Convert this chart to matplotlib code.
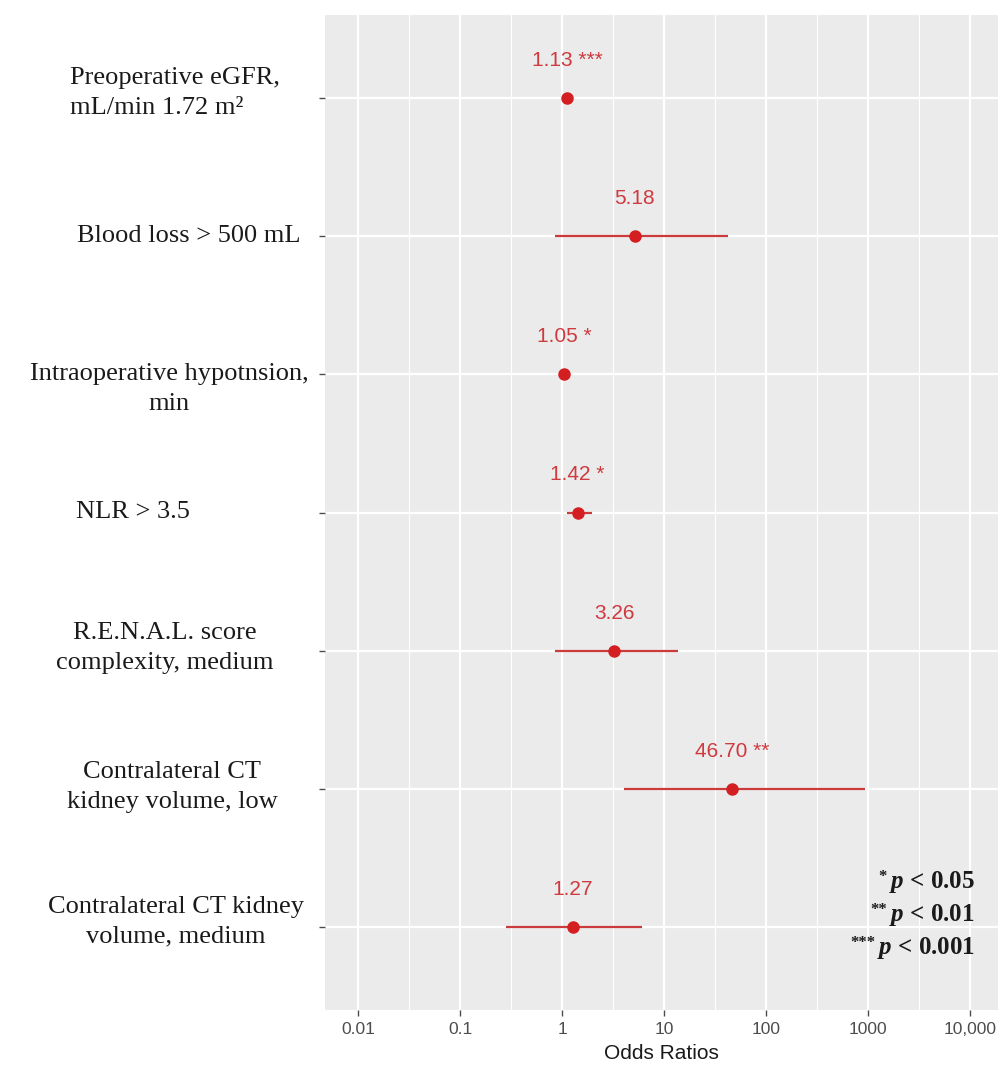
import matplotlib
matplotlib.use("Agg")
import matplotlib.pyplot as plt
import matplotlib.transforms as mtransforms
import numpy as np

# ---- data ----
predictors = [
    "Preoperative eGFR,\nmL/min 1.72 m\u00b2",
    "Blood loss > 500 mL",
    "Intraoperative hypotnsion,\nmin",
    "NLR > 3.5",
    "R.E.N.A.L. score\ncomplexity, medium",
    "Contralateral CT\nkidney volume, low",
    "Contralateral CT kidney\nvolume, medium",
]
odds_ratio = [1.13, 5.18, 1.05, 1.42, 3.26, 46.70, 1.27]
ci_low = [1.07, 0.85, 1.01, 1.11, 0.85, 4.06, 0.28]
ci_high = [1.19, 42.4, 1.09, 1.95, 13.7, 932.0, 6.05]
stars = ["***", "", "*", "*", "", "**", ""]

x_ticks = [0.01, 0.1, 1, 10, 100, 1000, 10000]
x_tick_labels = ["0.01", "0.1", "1", "10", "100", "1000", "10,000"]

legend_stars = ["*", "**", "***"]
legend_p = ["0.05", "0.01", "0.001"]

# ---- style ----
W, H = 998, 1065
panel_bg = "#EBEBEB"
red_point = "#D41F22"
red_line = "#CC3B3B"
red_text = "#CF3A3F"
serif = "Liberation Serif"
sans = "Liberation Sans"

plt.rcParams["mathtext.fontset"] = "custom"
plt.rcParams["mathtext.rm"] = "Liberation Serif:bold"
plt.rcParams["mathtext.it"] = "Liberation Serif:italic:bold"

fig = plt.figure(figsize=(W / 100, H / 100), dpi=100)
ax = fig.add_axes([325 / W, 1 - 1010 / H, (998 - 325) / W, (1010 - 15) / H])
ax.set_facecolor(panel_bg)
for s in ax.spines.values():
    s.set_visible(False)

n = len(predictors)
ypos = np.arange(n, 0, -1)  # first predictor on top

ax.set_xscale("log")
ax.set_xlim(10 ** -2.324, 10 ** 4.275)
ax.set_ylim(0.4, n + 0.6)

# grid: major decades, minor half-decades, one line per row
for t in x_ticks:
    ax.axvline(t, color="white", lw=1.6, zorder=0)
for e in np.arange(-1.5, 4.5, 1.0):
    ax.axvline(10 ** e, color="white", lw=0.8, zorder=0)
for y in ypos:
    ax.axhline(y, color="white", lw=1.6, zorder=0)

# confidence intervals and point estimates
ax.hlines(ypos, ci_low, ci_high, color=red_line, lw=1.6, zorder=2)
ax.plot(odds_ratio, ypos, "o", color=red_point, ms=8, zorder=3)

for orv, y, st in zip(odds_ratio, ypos, stars):
    label = f"{orv:.2f}" + (f" {st}" if st else "")
    ax.annotate(label, (orv, y), xytext=(0, 27), textcoords="offset points",
                ha="center", va="center", color=red_text, fontsize=15,
                family=sans)

# axes ticks
ax.set_xticks(x_ticks)
ax.set_xticklabels(x_tick_labels)
ax.xaxis.set_minor_locator(matplotlib.ticker.NullLocator())
ax.tick_params(axis="x", length=4, width=1, color="#4D4D4D", pad=5,
               labelsize=12.5, labelcolor="#4D4D4D")
for lbl in ax.get_xticklabels():
    lbl.set_family(sans)
ax.set_yticks(ypos)
ax.set_yticklabels([""] * n)
ax.tick_params(axis="y", length=4, width=1, color="#4D4D4D")
ax.set_xlabel("Odds Ratios", fontsize=15, family=sans, color="#1A1A1A",
              labelpad=5)

# row labels, placed by hand in the left margin
trans = mtransforms.blended_transform_factory(fig.transFigure, ax.transData)
px = 1 / 138.17  # one pixel in row units
label_x = [70, 189, 169, 133, 165, 172, 176]
label_dy = [5, 0, -15, 0, 3, 2, 5]
label_ha = ["left", "center", "center", "center", "center", "center", "center"]
for text, y, lx, dy, ha in zip(predictors, ypos, label_x, label_dy, label_ha):
    fig.text(lx / W, y + dy * px, text, transform=trans, ha=ha, va="center",
             multialignment=ha, family=serif, fontsize=19, linespacing=1.45,
             color="#1A1A1A")

# significance legend: small raised asterisks, italic p, right aligned
renderer = fig.canvas.get_renderer()
for i, (st, pv) in enumerate(zip(legend_stars, legend_p)):
    ypix = 882 + 33 * i
    main = fig.text(975 / W, 1 - ypix / H, rf"$p$ < {pv}", ha="right",
                    va="center", family=serif, fontweight="bold",
                    fontsize=18, color="#1A1A1A")
    bb = main.get_window_extent(renderer)
    fig.text((bb.x0 - 2) / W, 1 - (ypix - 5) / H, st, ha="right",
             va="center", family=serif, fontweight="bold", fontsize=12,
             color="#1A1A1A")

fig.savefig("out.png", dpi=100, facecolor="white")
